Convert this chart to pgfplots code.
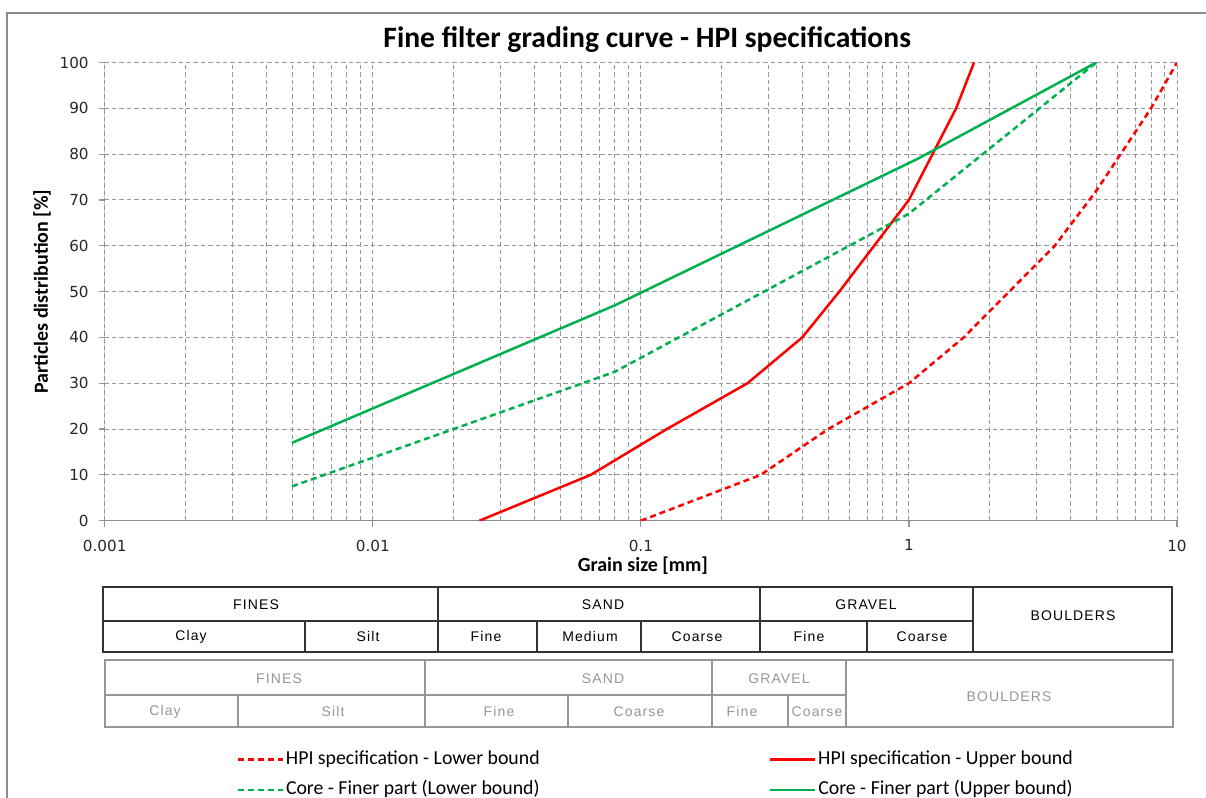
\documentclass[border=0pt]{standalone}
\usepackage{fontspec}
\setmainfont{Carlito}
\newfontfamily\tickfont{DejaVu Sans}
\newfontfamily\tabfont[LetterSpace=8]{Liberation Sans}
\usepackage{pgfplots}
\pgfplotsset{compat=1.18}
\definecolor{xgreen}{RGB}{0,176,80}
\definecolor{gridc}{RGB}{150,150,150}
\definecolor{frame}{RGB}{140,140,140}
\definecolor{tab2}{RGB}{150,150,150}

\begin{document}
\begin{tikzpicture}
\useasboundingbox (0,0) rectangle (603pt,399pt);
\begin{axis}[
  at={(52.35pt,138.65pt)}, anchor=south west,
  scale only axis, width=536.15pt, height=229.1pt,
  xmode=log, xmin=0.001, xmax=10, ymin=0, ymax=100,
  axis line style={draw=none},
  tick pos=left,
  xtick={0.001,0.01,0.1,1,10},
  xticklabels={0.001,0.01,0.1,1,10},
  ytick={0,10,...,100},
  /pgf/number format/assume math mode=true,
  grid=both,
  major grid style={gridc, dash pattern=on 2.2pt off 1.5pt, line width=0.5pt},
  minor grid style={gridc, dash pattern=on 2.2pt off 1.5pt, line width=0.5pt},
  tick align=outside, major tick length=3pt, minor tick length=0pt,
  tick style={gridc, line width=0.6pt},
  ticklabel style={font=\tickfont\fontsize{7.6}{9}\selectfont, text=black!85},
  yticklabel style={xshift=-1.5pt},
  xticklabel style={yshift=-3pt},
  every axis title shift=0pt,
  title={\bfseries Fine filter grading curve - HPI specifications},
  title style={font=\fontsize{14.8}{17}\selectfont, at={(axis description cs:0.506,1.049)}, anchor=center},
  xlabel={\bfseries Grain size [mm]},
  xlabel style={font=\fontsize{10}{12}\selectfont, at={(axis description cs:0.502,-0.099)}, anchor=center},
  ylabel={\bfseries Particles distribution [\%]},
  ylabel style={font=\fontsize{10}{12}\selectfont, at={(axis description cs:-0.0585,0.5)}, anchor=center},
  legend columns=2,
  legend image code/.code={\draw[#1] (0pt,0pt) -- (22.5pt,0pt);},
  legend style={at={(axis description cs:0.1225,-0.496)}, anchor=north west,
    draw=none, fill=none, inner sep=0pt,
    font=\fontsize{9.9}{11}\selectfont,
    nodes={inner sep=1pt, text height=7pt, text depth=2.2pt},
    row sep=4pt,
    /tikz/every even column/.append style={column sep=113.5pt}},
]
\draw[frame, line width=0.6pt] (rel axis cs:0,1) -- (rel axis cs:0,0) -- (rel axis cs:1,0);
\addplot[red, line width=1.25pt, dash pattern=on 3pt off 2pt] coordinates {(0.1,0)(0.28,10)(0.5,20)(1,30)(1.6,40)(3.5,60)(5,72)(8,90)(10,100)};
\addlegendentry{HPI specification - Lower bound}
\addplot[red, line width=1.25pt] coordinates {(0.025,0)(0.065,10)(0.125,20)(0.25,30)(0.4,40)(0.55,50)(1,70)(1.5,90)(1.75,100)};
\addlegendentry{HPI specification - Upper bound}
\addplot[xgreen, line width=1.25pt, dash pattern=on 3pt off 2pt] coordinates {(0.005,7.5)(0.08,32.5)(1,67)(5,100)};
\addlegendentry{Core - Finer part (Lower bound)}
\addplot[xgreen, line width=1.25pt] coordinates {(0.005,17)(0.08,47)(1.08,79)(5,100)};
\addlegendentry{Core - Finer part (Upper bound)}
\end{axis}
\begin{scope}[x=0.5pt, y=-0.5pt, yshift=399pt]
  % outer frame
  \draw[frame, line width=0.6pt] (7,798) -- (7,13) -- (1206,13);
  % table 1
  \begin{scope}[draw=black!80, line width=0.6pt]
    \draw (103,587) rectangle (1172,652);
    \draw (103,621) -- (973,621);
    \foreach \x in {438,760,973} \draw (\x,587) -- (\x,652);
    \foreach \x in {305,537,641,867} \draw (\x,621) -- (\x,652);
  \end{scope}
  \begin{scope}[every node/.style={font=\tabfont\fontsize{7}{8}\selectfont, text=black, inner sep=0pt, anchor=center}]
    \node at (256,604.5) {FINES};
    \node at (603,604.5) {SAND};
    \node at (866,604.5) {GRAVEL};
    \node at (1073,616) {BOULDERS};
    \node at (191,637) {Clay};
    \node at (368,637) {Silt};
    \node at (486,637) {Fine};
    \node at (590,637) {Medium};
    \node at (697,637) {Coarse};
    \node at (809,637) {Fine};
    \node at (922,637) {Coarse};
  \end{scope}
  % table 2
  \begin{scope}[draw=tab2, line width=0.6pt]
    \draw (105,660) rectangle (1173,727);
    \draw (105,695) -- (846,695);
    \foreach \x in {425,712,846} \draw (\x,660) -- (\x,727);
    \foreach \x in {238,568,788} \draw (\x,695) -- (\x,727);
  \end{scope}
  \begin{scope}[every node/.style={font=\tabfont\fontsize{7}{8}\selectfont, text=tab2, inner sep=0pt, anchor=center}]
    \node at (279,678.5) {FINES};
    \node at (603,678.5) {SAND};
    \node at (779,678.5) {GRAVEL};
    \node at (1009,697) {BOULDERS};
    \node at (165,711.5) {Clay};
    \node at (333,711.5) {Silt};
    \node at (499,711.5) {Fine};
    \node at (639,711.5) {Coarse};
    \node at (742,711.5) {Fine};
    \node at (817,711.5) {Coarse};
  \end{scope}
\end{scope}
\end{tikzpicture}
\end{document}
